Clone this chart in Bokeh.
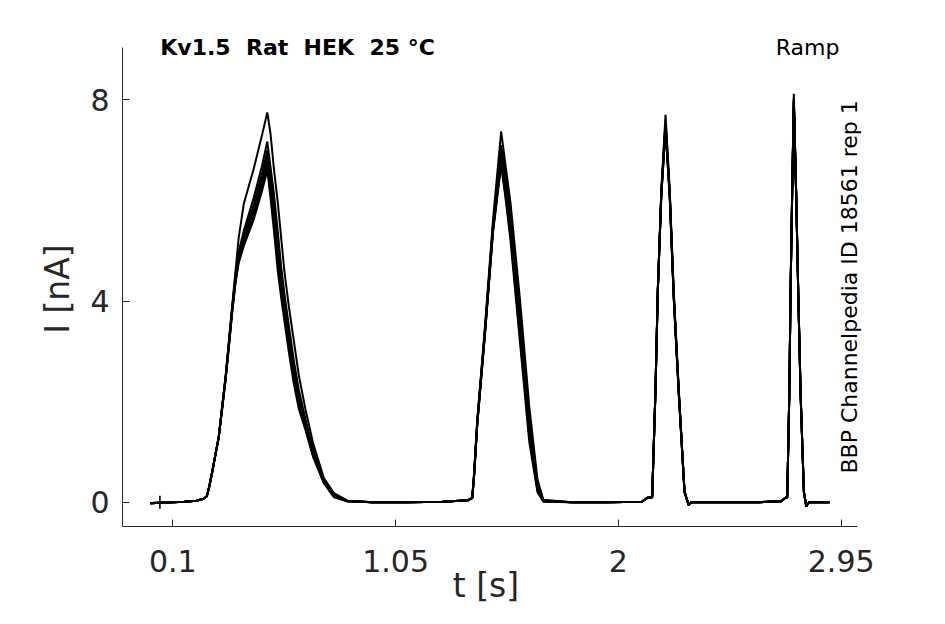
import math
from bokeh.plotting import figure
from bokeh.models import Range1d, FixedTicker, Label
from bokeh.embed import file_html
from bokeh.resources import INLINE

# ---- data ----
t_knots = [0.005, 0.05, 0.10, 0.15, 0.20, 0.232,
           0.245, 0.255, 0.268, 0.282, 0.296, 0.310, 0.325, 0.339, 0.353, 0.367, 0.381, 0.403, 0.445, 0.481, 0.503,
           0.517, 0.531, 0.548, 0.562, 0.576, 0.595, 0.616, 0.637, 0.666, 0.699, 0.744, 0.787, 0.844,
           0.95, 1.10, 1.25, 1.36,
           1.377, 1.385, 1.398, 1.433, 1.465, 1.500,
           1.52, 1.54, 1.58, 1.62, 1.655, 1.68,
           1.80, 1.95, 2.10, 2.125, 2.144,
           2.158, 2.168, 2.183, 2.201,
           2.219, 2.236, 2.258, 2.282, 2.300, 2.31,
           2.45, 2.60, 2.695, 2.712, 2.720,
           2.729, 2.734, 2.741, 2.748,
           2.758, 2.767, 2.777, 2.791, 2.801, 2.812,
           2.86, 2.90]

trace_1 = [-0.02, -0.01, 0.00, 0.01, 0.03, 0.07,
           0.12, 0.30, 0.60, 0.95, 1.30, 1.90, 2.50, 3.20, 3.90, 4.58, 5.26, 5.94, 6.63, 7.31, 7.75,
           7.31, 6.63, 5.94, 5.26, 4.58, 3.89, 3.21, 2.53, 1.84, 1.16, 0.48, 0.18, 0.03,
           0.00, 0.00, 0.01, 0.04,
           0.10, 0.60, 1.62, 3.61, 5.60, 7.37,
           6.65, 5.95, 4.05, 1.90, 0.45, 0.05,
           0.00, 0.00, 0.01, 0.09, 0.10,
           2.20, 4.20, 6.20, 7.70,
           6.20, 4.20, 2.20, 0.22, -0.06, 0.00,
           0.00, 0.00, 0.02, 0.09, 0.10,
           2.20, 4.20, 6.20, 8.12,
           6.20, 4.20, 2.20, 0.22, -0.08, 0.00,
           0.00, 0.00]

trace_2 = [-0.02, -0.01, 0.00, 0.01, 0.03, 0.07,
           0.12, 0.30, 0.60, 0.95, 1.30, 1.88, 2.48, 3.17, 3.86, 4.50, 4.98, 5.40, 6.05, 6.70, 7.17,
           6.65, 6.14, 5.36, 4.68, 4.14, 3.50, 2.82, 2.24, 1.65, 1.04, 0.45, 0.16, 0.03,
           0.00, 0.00, 0.01, 0.04,
           0.10, 0.58, 1.60, 3.55, 5.50, 7.10,
           6.45, 5.75, 3.80, 1.70, 0.38, 0.04,
           0.00, 0.00, 0.01, 0.09, 0.10,
           2.20, 4.20, 6.15, 7.60,
           6.15, 4.15, 2.15, 0.20, -0.06, 0.00,
           0.00, 0.00, 0.02, 0.09, 0.10,
           2.20, 4.15, 6.15, 8.05,
           6.15, 4.15, 2.15, 0.20, -0.08, 0.00,
           0.00, 0.00]

trace_3 = [-0.02, -0.01, 0.00, 0.01, 0.03, 0.07,
           0.12, 0.30, 0.60, 0.95, 1.30, 1.87, 2.47, 3.15, 3.84, 4.46, 4.92, 5.32, 5.92, 6.55, 7.00,
           6.45, 5.98, 5.16, 4.51, 3.99, 3.37, 2.69, 2.15, 1.60, 1.01, 0.44, 0.15, 0.03,
           0.00, 0.00, 0.01, 0.04,
           0.09, 0.57, 1.58, 3.52, 5.45, 6.95,
           6.35, 5.60, 3.65, 1.60, 0.34, 0.03,
           0.00, 0.00, 0.01, 0.09, 0.10,
           2.20, 4.20, 6.15, 7.55,
           6.10, 4.10, 2.15, 0.20, -0.06, 0.00,
           0.00, 0.00, 0.02, 0.09, 0.10,
           2.20, 4.15, 6.15, 8.00,
           6.15, 4.15, 2.15, 0.20, -0.08, 0.00,
           0.00, 0.00]

trace_4 = [-0.02, -0.01, 0.00, 0.01, 0.03, 0.07,
           0.12, 0.30, 0.60, 0.95, 1.30, 1.86, 2.46, 3.13, 3.82, 4.43, 4.88, 5.26, 5.84, 6.45, 6.88,
           6.35, 5.84, 5.02, 4.40, 3.89, 3.27, 2.60, 2.08, 1.55, 0.98, 0.42, 0.13, 0.02,
           0.00, 0.00, 0.01, 0.04,
           0.09, 0.56, 1.56, 3.50, 5.42, 6.85,
           6.25, 5.50, 3.50, 1.50, 0.30, 0.03,
           0.00, 0.00, 0.01, 0.09, 0.10,
           2.20, 4.20, 6.15, 7.50,
           6.10, 4.10, 2.15, 0.20, -0.06, 0.00,
           0.00, 0.00, 0.02, 0.09, 0.10,
           2.20, 4.15, 6.15, 8.00,
           6.15, 4.15, 2.15, 0.20, -0.08, 0.00,
           0.00, 0.00]

trace_5 = [-0.02, -0.01, 0.00, 0.01, 0.03, 0.07,
           0.12, 0.30, 0.60, 0.95, 1.30, 1.85, 2.45, 3.12, 3.80, 4.40, 4.84, 5.20, 5.76, 6.36, 6.78,
           6.22, 5.70, 4.87, 4.29, 3.79, 3.18, 2.50, 2.00, 1.50, 0.94, 0.40, 0.12, 0.02,
           0.00, 0.00, 0.01, 0.04,
           0.08, 0.55, 1.55, 3.48, 5.40, 6.80,
           6.15, 5.40, 3.40, 1.40, 0.26, 0.02,
           0.00, 0.00, 0.01, 0.09, 0.10,
           2.20, 4.20, 6.10, 7.45,
           6.10, 4.10, 2.15, 0.20, -0.06, 0.00,
           0.00, 0.00, 0.02, 0.09, 0.10,
           2.20, 4.15, 6.15, 7.95,
           6.15, 4.15, 2.15, 0.20, -0.08, 0.00,
           0.00, 0.00]

trace_6 = [-0.02, -0.01, 0.00, 0.01, 0.03, 0.07,
           0.12, 0.30, 0.60, 0.95, 1.30, 1.84, 2.44, 3.10, 3.78, 4.37, 4.80, 5.14, 5.68, 6.27, 6.68,
           6.12, 5.55, 4.73, 4.18, 3.70, 3.08, 2.43, 1.93, 1.46, 0.91, 0.39, 0.11, 0.02,
           0.00, 0.00, 0.01, 0.04,
           0.08, 0.54, 1.54, 3.46, 5.38, 6.75,
           6.05, 5.30, 3.30, 1.30, 0.23, 0.02,
           0.00, 0.00, 0.01, 0.09, 0.10,
           2.20, 4.20, 6.10, 7.45,
           6.05, 4.05, 2.10, 0.20, -0.06, 0.00,
           0.00, 0.00, 0.02, 0.09, 0.10,
           2.20, 4.15, 6.10, 7.95,
           6.10, 4.10, 2.10, 0.20, -0.08, 0.00,
           0.00, 0.00]

trace_7 = [-0.02, -0.01, 0.00, 0.01, 0.03, 0.07,
           0.12, 0.30, 0.60, 0.95, 1.30, 1.83, 2.43, 3.08, 3.76, 4.34, 4.76, 5.10, 5.62, 6.20, 6.60,
           6.04, 5.41, 4.58, 4.07, 3.60, 2.98, 2.36, 1.86, 1.43, 0.89, 0.38, 0.10, 0.02,
           0.00, 0.00, 0.01, 0.04,
           0.08, 0.53, 1.52, 3.44, 5.35, 6.70,
           6.00, 5.20, 3.20, 1.20, 0.20, 0.01,
           0.00, 0.00, 0.01, 0.09, 0.10,
           2.20, 4.20, 6.10, 7.40,
           6.05, 4.05, 2.10, 0.20, -0.06, 0.00,
           0.00, 0.00, 0.02, 0.09, 0.10,
           2.20, 4.15, 6.10, 7.90,
           6.10, 4.10, 2.10, 0.20, -0.08, 0.00,
           0.00, 0.00]

traces = [trace_1, trace_2, trace_3, trace_4, trace_5, trace_6, trace_7]

marker_t = [0.045]
marker_i = [0.0]

x_ticks = [0.1, 1.05, 2.0, 2.95]
x_tick_labels = ["0.1", "1.05", "2", "2.95"]
y_ticks = [0, 4, 8]
y_tick_labels = ["0", "4", "8"]

# visible axis extents (MATLAB axes box) and the slightly larger plotting window
x_axis_bounds = (-0.1145, 3.018)
y_axis_bounds = (-0.483, 9.046)

title_text = "Kv1.5 \u00a0Rat \u00a0HEK \u00a025 °C"
protocol_text = "Ramp"
side_text = "BBP Channelpedia ID 18561 rep 1"
x_label = "t [s]\u00a0\u00a0"
y_label = "I [nA]\u00a0\u00a0"

# ---- figure ----
FONT = "DejaVu Sans"
AX = "#262626"

p = figure(width=929, height=608, output_backend="svg", toolbar_location=None,
           x_range=Range1d(-0.1145, 3.075), y_range=Range1d(-0.483, 9.378),
           min_border_left=122, min_border_right=59, min_border_top=30, min_border_bottom=82)
p.outline_line_color = None
p.grid.visible = False
p.background_fill_color = "white"
p.border_fill_color = "white"

for tr in traces:
    p.line(t_knots, tr, line_color="black", line_width=2.0)

p.scatter(marker_t, marker_i, marker="cross", size=13, line_color="black", line_width=1.6)

xa = p.xaxis[0]
xa.ticker = FixedTicker(ticks=x_ticks)
xa.major_label_overrides = dict(zip(x_ticks, x_tick_labels))
xa.bounds = x_axis_bounds
ya = p.yaxis[0]
ya.ticker = FixedTicker(ticks=y_ticks)
ya.major_label_overrides = dict(zip(y_ticks, y_tick_labels))
ya.bounds = y_axis_bounds
for ax in (xa, ya):
    ax.minor_tick_line_color = None
    ax.major_tick_in = 7
    ax.major_tick_out = 0
    ax.axis_line_color = AX
    ax.major_tick_line_color = AX
    ax.major_label_text_font = FONT
    ax.major_label_text_font_size = "30px"
    ax.major_label_text_color = AX
    ax.axis_label_text_font = FONT
    ax.axis_label_text_font_size = "33px"
    ax.axis_label_text_font_style = "normal"
    ax.axis_label_text_color = AX
xa.major_label_standoff = 23
ya.major_label_standoff = 13
xa.axis_label = x_label
xa.axis_label_standoff = -9
ya.axis_label = y_label
ya.axis_label_standoff = 10

p.add_layout(Label(x=0.632, y=9.046, text=title_text, text_align="center", text_baseline="alphabetic",
                   text_font=FONT, text_font_size="22px", text_font_style="bold", text_color="black"))
p.add_layout(Label(x=2.807, y=9.046, text=protocol_text, text_align="center", text_baseline="alphabetic",
                   text_font=FONT, text_font_size="22px", text_color="black"))
p.add_layout(Label(x=2.986, y=0.57, text=side_text, angle=math.pi / 2, text_align="left",
                   text_baseline="middle", text_font=FONT, text_font_size="22px", text_color="black"))

open("out.html", "w").write(file_html(p, INLINE))
